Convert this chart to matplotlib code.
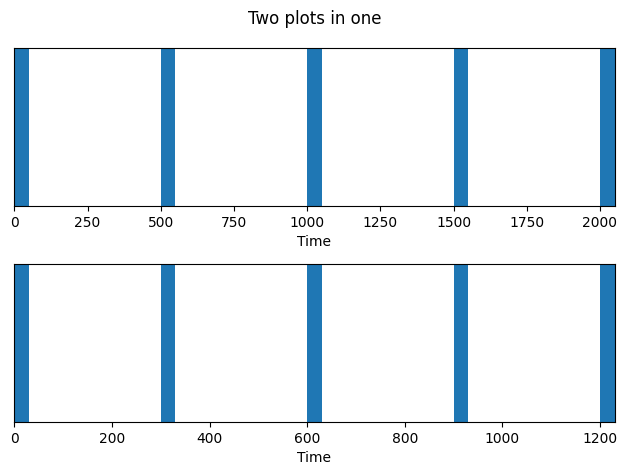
import matplotlib
matplotlib.use("Agg")
import matplotlib.pyplot as plt

top_starts = [0, 500, 1000, 1500, 2000]
top_width = 50
bottom_starts = [0, 300, 600, 900, 1200]
bottom_width = 30
title = "Two plots in one"
xlabel = "Time"

fig, axes = plt.subplots(2, 1, figsize=(6.4, 4.8), dpi=100)
for ax, starts, w in zip(axes, [top_starts, bottom_starts], [top_width, bottom_width]):
    ax.bar(starts, [1] * len(starts), width=w, align='edge', color='#1f77b4')
    ax.set_xlim(0, starts[-1] + w)
    ax.set_ylim(0, 1)
    ax.set_yticks([])
    ax.set_xlabel(xlabel)
fig.suptitle(title)
fig.tight_layout()
fig.savefig("out.png", bbox_inches='tight')
